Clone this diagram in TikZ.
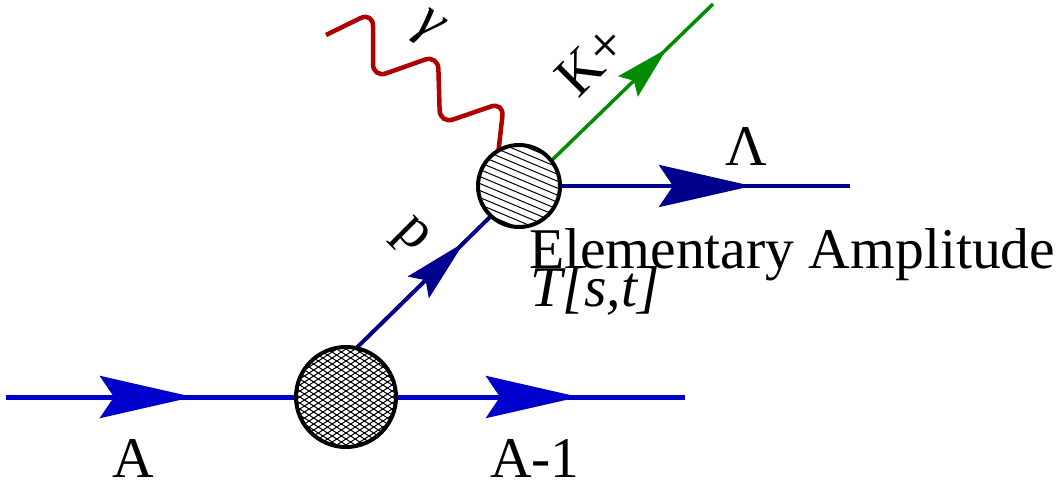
\documentclass[tikz,border=0pt]{standalone}
\usepackage{fontspec}
\newfontfamily\tnr{Liberation Serif}
\usetikzlibrary{arrows.meta,decorations.markings,backgrounds}
\definecolor{bblue}{RGB}{0,0,204}
\definecolor{navy}{RGB}{0,0,140}
\definecolor{kgreen}{RGB}{0,140,0}
\definecolor{pred}{RGB}{176,0,0}
\tikzset{
  bigtip/.tip={Stealth[length=46.5pt,width=21pt,inset=7pt]},
  ptip/.tip={Stealth[length=32pt,width=15pt,inset=5pt]},
  ktip/.tip={Stealth[length=27pt,width=14pt,inset=4pt]},
  midtip/.style 2 args={postaction={decorate},
    decoration={markings, mark=at position #1 with {\arrow{#2}}}},
  lbl/.style={font=\tnr\fontsize{28.8}{34}\selectfont, inner sep=0pt, outer sep=0pt},
  blob/.style={circle, draw=black, line width=2pt, fill=white, inner sep=0pt, outer sep=0pt},
  crossfill/.style={path picture={
    \begin{scope}[shift={(path picture bounding box.center)}]
      \foreach \c in {-90,-84,...,90} {
        \draw[line width=0.5pt] (-60,{\c-39}) -- (60,{\c+39});
        \draw[line width=0.5pt] (-60,{\c+39}) -- (60,{\c-39});
      }
    \end{scope}}},
  hatchfill/.style={path picture={
    \begin{scope}[shift={(path picture bounding box.center)}]
      \foreach \c in {-70,-63,...,70} {
        \draw[line width=0.5pt] (-50,{\c-21}) -- (50,{\c+21});
      }
    \end{scope}}},
  bline/.style={bblue, line width=2.5pt},
  nline/.style={navy, line width=2.3pt},
}
\begin{document}
\begin{tikzpicture}[x=0.5pt,y=-0.5pt]
\useasboundingbox (0,0) rectangle (1061,487);
% vertices
\node[blob, minimum size=50pt, crossfill] (bot) at (346,397) {};
\node[blob, minimum size=41pt, hatchfill] (top) at (519,186) {};
% free ends
\coordinate (Ain) at (6,397);
\coordinate (Aout) at (685,397);
\coordinate (Lend) at (850,186);
\coordinate (Kend) at (713,4);
\coordinate (g0) at (326,35);
\begin{scope}[on background layer]
\draw[bline, midtip={93.5pt}{bigtip}] (Ain) -- (bot.west);
\draw[bline, midtip={91.5pt}{bigtip}] (bot.east) -- (Aout);
\draw[nline, midtip={96pt}{bigtip}] (top.east) -- (Lend);
\draw[navy, line width=2pt, midtip={75.5pt}{ptip}] (bot.78) -- (top.227);
\draw[kgreen, line width=1.75pt, midtip={80.5pt}{ktip}] (top.38) -- (Kend);
\draw[pred, line width=2.25pt, rounded corners=7pt]
  (g0) -- (373,12) -- (373,78) -- (438,55) -- (440,124) -- (504,102) -- (top.120);
\end{scope}
% labels
\node[lbl, anchor=base] (lA) at (133,477) {A};
\node[lbl, anchor=base west] (lA1) at (490,477) {A-1};
\node[lbl, anchor=base] (lL) at (746,165) {Λ};
\node[lbl, anchor=base west] (lE) at (529,268) {Elementary Amplitude};
\node[lbl, anchor=base west] (lT) at (530,306) {\itshape T[s,t]};
\node[lbl, rotate=-45] (lp) at (410,237) {p};
\node[lbl, rotate=45] (lK) at (591,60) {K+};
\node[lbl, rotate=-35] (lg) at (427,29) {\itshape γ};
\end{tikzpicture}
\end{document}
